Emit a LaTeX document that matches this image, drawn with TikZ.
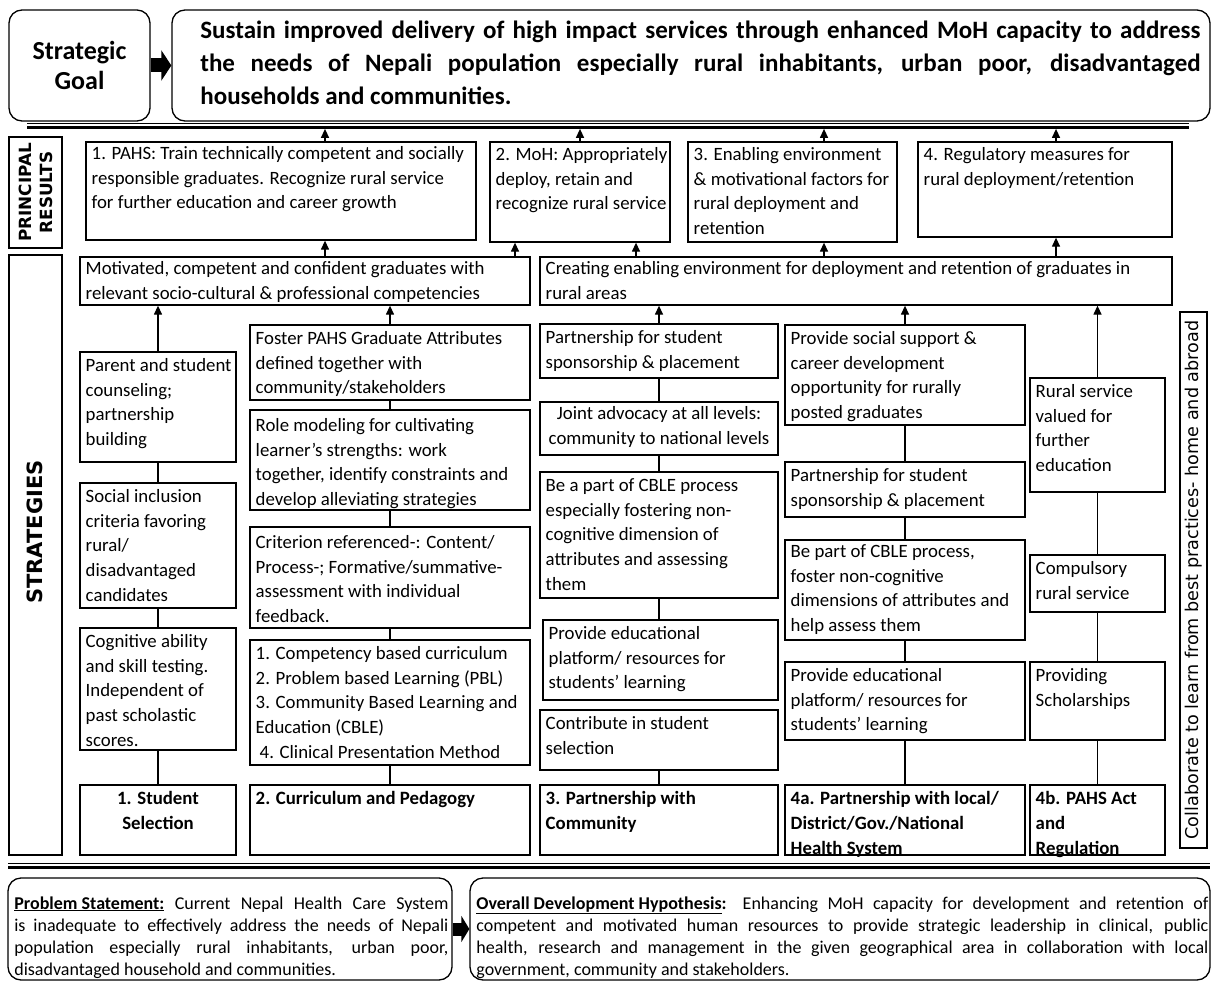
\documentclass[tikz,border=0pt]{standalone}
\usepackage{fontspec}
\setmainfont{Carlito}
\newfontfamily\labelfont{DejaVu Sans}
\usetikzlibrary{arrows.meta,fit}

\tikzset{every picture/.style={line width=0.75pt}}
\tikzset{
  box/.style={draw, line width=1.3pt, inner sep=0pt},
  rbox/.style={box, rounded corners=13pt},
  txt/.style={anchor=north west, inner xsep=6pt, inner ysep=7pt, align=left, font=\fontsize{18.8}{24.6}\selectfont},
  btxt/.style={txt, font=\fontsize{18.8}{24.6}\selectfont\bfseries},
  just/.style={anchor=north west, inner sep=0pt, align=justify},
  up/.style={line width=1.3pt, -{Triangle[length=9pt,width=8pt]}},
  link/.style={line width=1.3pt},
  fatarrow/.style={line width=14pt, -{Triangle[length=10pt,width=30pt]}},
  rule/.style={fill, inner sep=0pt}
}

\begin{document}
\begin{tikzpicture}[x=1pt,y=1pt,yscale=-1,xscale=1]
\useasboundingbox (0,0) rectangle (1213,982);

%Shape: Rounded Rect (goal)
\node [rbox, fit={(9,10)(150,121)}] (sg) {};
\node [font=\fontsize{26}{30}\selectfont\bfseries, align=center] (sgt) at (sg.center) {Strategic\\Goal};
\node [rbox, fit={(172,10)(1210,121)}] (goal) {};
% Text Node
\node [just, text width=1000pt, font=\fontsize{25}{33}\selectfont\bfseries] (goalt) at (200,21) {Sustain improved delivery of high impact services through enhanced MoH capacity to address\linebreak the needs of Nepali population especially rural inhabitants, urban poor, disadvantaged\linebreak households and communities.};
\draw [fatarrow] (sg.east) -- (goal.west);

%Straight Lines (top rule)
\draw [line width=0.8pt] (27,123) -- (1189,123);
\node [rule, fit={(27,125.5)(1189,128.5)}] (topline) {};

%Shape: Rectangle (principal results)
\node [box, fit={(9,137)(62,248)}] (prlab) {};
\node [rotate=90, font=\labelfont\bfseries\fontsize{16.8}{21}\selectfont, align=center] (prlabt) at (prlab.center) {PRINCIPAL\\RESULTS};
\node [box, fit={(86,142)(476,240)}] (pr1) {};
\node [txt, inner ysep=5pt] (pr1t) at (pr1.north west) {1. PAHS: Train technically competent and socially\\responsible graduates. Recognize rural service\\for further education and career growth};
\node [box, fit={(490,142)(670,242)}] (pr2) {};
\node [txt, inner ysep=6pt] (pr2t) at (pr2.north west) {2. MoH: Appropriately\\deploy, retain and\\recognize rural service};
\node [box, fit={(688,142)(897,242)}] (pr3) {};
\node [txt, inner ysep=6pt] (pr3t) at (pr3.north west) {3. Enabling environment\\\& motivational factors for\\rural deployment and\\retention};
\node [box, fit={(918,142)(1172,237)}] (pr4) {};
\node [txt, inner ysep=6pt] (pr4t) at (pr4.north west) {4. Regulatory measures for\\rural deployment/retention};

\draw [up] (pr1.north -| 325,0) -- (topline.south -| 325,0);
\draw [up] (pr2.north -| 580,0) -- (topline.south -| 580,0);
\draw [up] (pr3.north -| 824,0) -- (topline.south -| 824,0);
\draw [up] (pr4.north -| 1056,0) -- (topline.south -| 1056,0);

%Shape: Rectangle (strategies)
\node [box, fit={(9,255)(62,855)}] (stlab) {};
\node [rotate=90, font=\labelfont\bfseries\fontsize{21}{24}\selectfont] (stlabt) at (35,532) {STRATEGIES};
\node [box, fit={(80,257)(530,305)}] (mot) {};
\node [txt, inner ysep=5pt] (mott) at (mot.north west) {Motivated, competent and confident graduates with\\relevant socio-cultural \& professional competencies};
\node [box, fit={(540,257)(1172,305)}] (cre) {};
\node [txt, inner ysep=5pt] (cret) at (cre.north west) {Creating enabling environment for deployment and retention of graduates in\\rural areas};
\node [box, fit={(1180,312)(1207,848)}] (col) {};
\node [rotate=90, font=\labelfont\fontsize{17.6}{20}\selectfont] (colt) at (col.center) {Collaborate to learn from best practices- home and abroad};

\draw [up] (mot.north -| 325,0) -- (pr1.south -| 325,0);
\draw [up] (mot.north -| 515,0) -- (pr2.south -| 515,0);
\draw [up] (cre.north -| 636,0) -- (pr2.south -| 636,0);
\draw [up] (cre.north -| 824,0) -- (pr3.south -| 824,0);
\draw [up] (cre.north -| 1056,0) -- (pr4.south -| 1056,0);

% column 1: student selection
\node [box, fit={(80,352)(236,462)}] (par) {};
\node [txt] (part) at (par.north west) {Parent and student\\counseling;\\partnership\\building};
\node [box, fit={(80,483)(236,608)}] (soc) {};
\node [txt] (soct) at (soc.north west) {Social inclusion\\criteria favoring\\rural/\\disadvantaged\\candidates};
\node [box, fit={(80,628)(236,750)}] (cog) {};
\node [txt] (cogt) at (cog.north west) {Cognitive ability\\and skill testing.\\Independent of\\past scholastic\\scores.};
\node [box, fit={(80,785)(236,855)}] (sel) {};
\node [btxt, anchor=north, align=center] (selt) at (sel.north) {1. Student\\Selection};
\draw [up] (par.north) -- (mot.south -| par.north);
\draw [link] (par) -- (soc);
\draw [link] (soc) -- (cog);
\draw [link] (cog) -- (sel);

% column 2: curriculum and pedagogy
\node [box, fit={(250,325)(530,400)}] (fos) {};
\node [txt] (fost) at (fos.north west) {Foster PAHS Graduate Attributes\\defined together with\\community/stakeholders};
\node [box, fit={(250,410)(530,510)}] (rol) {};
\node [txt, inner ysep=9pt] (rolt) at (rol.north west) {Role modeling for cultivating\\learner’s strengths: work\\together, identify constraints and\\develop alleviating strategies};
\node [box, fit={(250,527)(530,628)}] (cri) {};
\node [txt, inner ysep=9pt] (crit) at (cri.north west) {Criterion referenced-: Content/\\Process-; Formative/summative-\\assessment with individual\\feedback.};
\node [box, fit={(250,640)(530,765)}] (cmp) {};
\node [txt] (cmpt) at (cmp.north west) {1. Competency based curriculum\\2. Problem based Learning (PBL)\\3. Community Based Learning and\\Education (CBLE)\\\hspace{4pt}4. Clinical Presentation Method};
\node [box, fit={(250,785)(530,855)}] (cur) {};
\node [btxt] (curt) at (cur.north west) {2. Curriculum and Pedagogy};
\draw [up] (fos.north) -- (mot.south -| fos.north);
\draw [link] (fos) -- (rol);
\draw [link] (rol) -- (cri);
\draw [link] (cri) -- (cmp);
\draw [link] (cmp) -- (cur);

% column 3: partnership with community
\node [box, fit={(540,324)(778,378)}] (psp) {};
\node [txt] (pspt) at (psp.north west) {Partnership for student\\sponsorship \& placement};
\node [box, fit={(540,402)(778,455)}] (adv) {};
\node [txt, anchor=north, align=center, inner ysep=5pt] (advt) at (adv.north) {Joint advocacy at all levels:\\community to national levels};
\node [box, fit={(540,472)(778,598)}] (cbl) {};
\node [txt] (cblt) at (cbl.north west) {Be a part of CBLE process\\especially fostering non-\\cognitive dimension of\\attributes and assessing\\them};
\node [box, fit={(543,620)(778,700)}] (edu) {};
\node [txt] (edut) at (edu.north west) {Provide educational\\platform/ resources for\\students’ learning};
\node [box, fit={(540,710)(778,770)}] (ctb) {};
\node [txt] (ctbt) at (ctb.north west) {Contribute in student\\selection};
\node [box, fit={(540,785)(778,855)}] (com) {};
\node [btxt] (comt) at (com.north west) {3. Partnership with\\Community};
\draw [up] (psp.north) -- (cre.south -| psp.north);
\draw [link] (psp) -- (adv);
\draw [link] (adv) -- (cbl);
\draw [link] (cbl) -- (edu.north -| cbl.south);
\draw [link] (ctb) -- (com);

% column 4a: partnership with health system
\node [box, fit={(785,325)(1025,425)}] (sup) {};
\node [txt] (supt) at (sup.north west) {Provide social support \&\\career development\\opportunity for rurally\\posted graduates};
\node [box, fit={(785,462)(1025,517)}] (psp4) {};
\node [txt] (psp4t) at (psp4.north west) {Partnership for student\\sponsorship \& placement};
\node [box, fit={(785,540)(1025,640)}] (cbl4) {};
\node [txt, inner ysep=5pt] (cbl4t) at (cbl4.north west) {Be part of CBLE process,\\foster non-cognitive\\dimensions of attributes and\\help assess them};
\node [box, fit={(785,662)(1025,740)}] (edu4) {};
\node [txt] (edu4t) at (edu4.north west) {Provide educational\\platform/ resources for\\students’ learning};
\node [box, fit={(785,785)(1025,855)}] (nhs) {};
\node [btxt] (nhst) at (nhs.north west) {4a. Partnership with local/\\District/Gov./National\\Health System};
\draw [up] (sup.north) -- (cre.south -| sup.north);
\draw [link] (sup) -- (psp4);
\draw [link] (psp4) -- (cbl4);
\draw [link] (cbl4) -- (edu4);
\draw [link] (edu4) -- (nhs);

% column 4b: act and regulation
\node [box, fit={(1030,378)(1165,492)}] (rsv) {};
\node [txt] (rsvt) at (rsv.north west) {Rural service\\valued for\\further\\education};
\node [box, fit={(1030,555)(1165,612)}] (crs) {};
\node [txt] (crst) at (crs.north west) {Compulsory\\rural service};
\node [box, fit={(1030,662)(1165,740)}] (sch) {};
\node [txt] (scht) at (sch.north west) {Providing\\Scholarships};
\node [box, fit={(1030,785)(1165,855)}] (act) {};
\node [btxt] (actt) at (act.north west) {4b. PAHS Act\\and\\Regulation};
\draw [up] (rsv.north) -- (cre.south -| rsv.north);
\draw [link] (rsv) -- (crs);
\draw [link] (crs) -- (sch);
\draw [link] (sch) -- (act);

%Straight Lines (bottom rule)
\draw [line width=0.8pt] (8,863) -- (1210,863);
\node [rule, fit={(8,865.5)(1210,868.5)}] (botline) {};

%Shape: Rounded Rect (problem and hypothesis)
\node [rbox, fit={(8,878)(452,980)}] (prb) {};
\node [just, text width=434pt, font=\fontsize{18}{22}\selectfont] (prbt) at (14,896) {\textbf{\underline{Problem Statement:}} Current Nepal Health Care System\linebreak is inadequate to effectively address the needs of Nepali\linebreak population especially rural inhabitants, urban poor,\linebreak disadvantaged household and communities.};
\node [rbox, fit={(470,878)(1210,980)}] (hyp) {};
\node [just, text width=732pt, font=\fontsize{18}{22}\selectfont] (hypt) at (476,896) {\textbf{\underline{Overall Development Hypothesis}:} Enhancing MoH capacity for development and retention of\linebreak competent and motivated human resources to provide strategic leadership in clinical, public\linebreak health, research and management in the given geographical area in collaboration with local\linebreak government, community and stakeholders.};
\draw [fatarrow, line width=13pt, -{Triangle[length=8pt,width=26pt]}] (prb.east) -- (hyp.west);

\end{tikzpicture}
\end{document}
